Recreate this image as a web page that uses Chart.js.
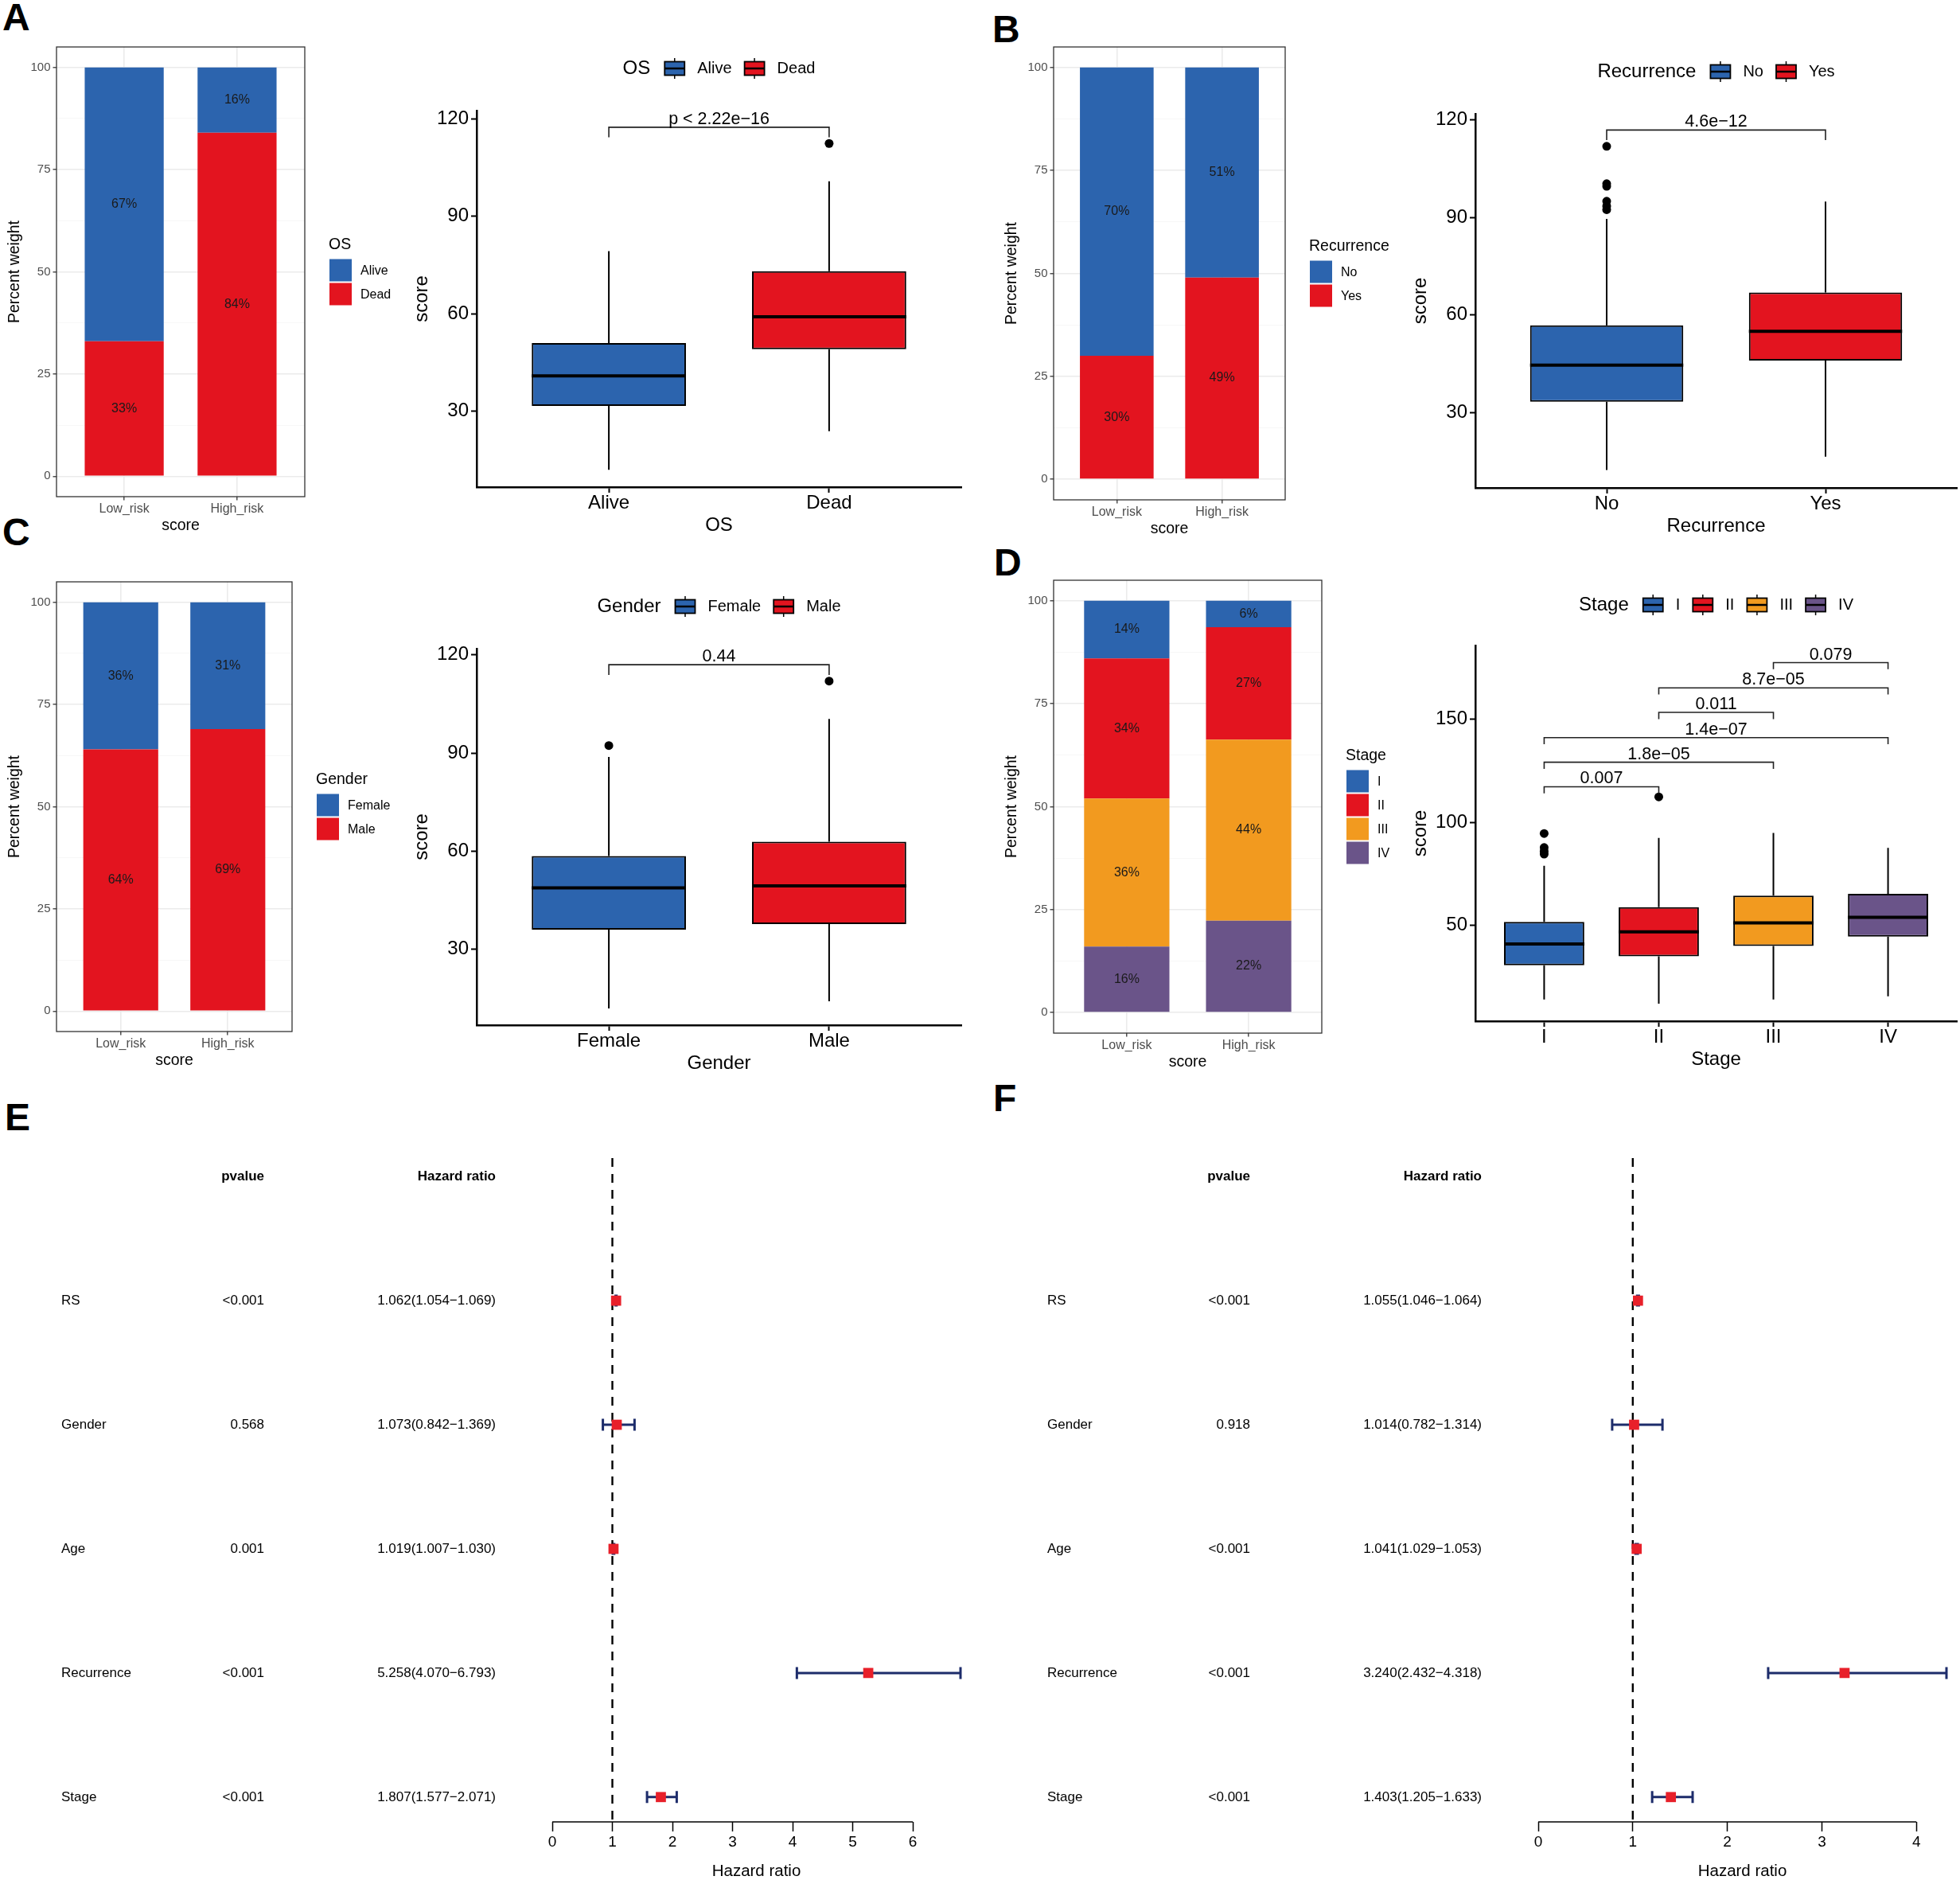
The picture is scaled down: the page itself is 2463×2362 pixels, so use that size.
<!DOCTYPE html>
<html>
<head>
<meta charset="utf-8">
<title>Risk score and clinical features</title>
<script src="https://cdn.jsdelivr.net/npm/chart.js@4.4.1/dist/chart.umd.min.js"></script>
<style>
  html, body { margin: 0; padding: 0; background: #fff; }
  #page { position: relative; width: 2463px; height: 2362px; overflow: hidden; background: #fff; }
  #page canvas { position: absolute; }
  .tag { position: absolute; font: bold 48px "Liberation Sans", Arial, sans-serif; line-height: 1; color: #000; }
</style>
</head>
<body>
<div id="page">
  <div class="tag" style="left:3px;top:-2px">A</div>
  <div class="tag" style="left:1247px;top:13px">B</div>
  <div class="tag" style="left:3px;top:645px">C</div>
  <div class="tag" style="left:1249px;top:683px">D</div>
  <div class="tag" style="left:6px;top:1380px">E</div>
  <div class="tag" style="left:1248px;top:1356px">F</div>
</div>
<script>
const FONT = '"Liberation Sans", Arial, Helvetica, sans-serif';
Chart.defaults.font.family = FONT;
Chart.defaults.color = '#000';

const BLUE = '#2C64AE', RED = '#E3141F', ORANGE = '#F29A1F', PURPLE = '#6A5489';

// stacked percent bars (A-D, left)
const riskGroups = ['Low_risk', 'High_risk'];
const pctTicks = [0, 25, 50, 75, 100];
const pctGridLines = [0, 12.5, 25, 37.5, 50, 62.5, 75, 87.5, 100];

const osLevels = ['Alive', 'Dead'];
const osPctAlive = [67, 16];
const osPctDead = [33, 84];

const recLevels = ['No', 'Yes'];
const recPctNo = [70, 51];
const recPctYes = [30, 49];

const genderLevels = ['Female', 'Male'];
const genderPctFemale = [36, 31];
const genderPctMale = [64, 69];

const stageLevels = ['I', 'II', 'III', 'IV'];
const stagePctI = [14, 6.4];
const stagePctII = [34, 27.3];
const stagePctIII = [36, 44.0];
const stagePctIV = [16, 22.3];

// score box plots (A-D, right)
const osLo = [12.0, 23.9];
const osQ1 = [31.7, 49.1];
const osMed = [40.9, 59.1];
const osQ3 = [51.0, 73.1];
const osHi = [79.3, 100.8];
const osOut = [[], [112.4]];
const osCmp = [[1, 2]];
const osCmpY = [117.4];
const osCmpText = ['p < 2.22e\u221216'];

const recLo = [12.3, 16.4];
const recQ1 = [33.3, 46.0];
const recMed = [44.6, 55.0];
const recQ3 = [56.8, 66.9];
const recHi = [89.6, 94.9];
const recOut = [[111.9, 100.4, 99.6, 95.0, 93.5, 92.4], []];
const recCmp = [[1, 2]];
const recCmpY = [116.9];
const recCmpText = ['4.6e\u221212'];

const genderLo = [11.9, 14.1];
const genderQ1 = [36.0, 37.7];
const genderMed = [48.8, 49.4];
const genderQ3 = [58.5, 62.9];
const genderHi = [88.8, 100.4];
const genderOut = [[92.3], [112.0]];
const genderCmp = [[1, 2]];
const genderCmpY = [117.0];
const genderCmpText = ['0.44'];

const stageLo = [14.2, 12.2, 14.2, 15.7];
const stageQ1 = [30.8, 35.1, 40.1, 44.6];
const stageMed = [41.1, 47.0, 51.3, 54.0];
const stageQ3 = [51.8, 58.9, 64.5, 65.4];
const stageHi = [78.9, 92.4, 94.8, 87.6];
const stageOut = [[94.6, 87.8, 86.0, 84.6], [112.3], [], []];
const stageCmp = [[1, 2], [1, 3], [1, 4], [2, 3], [2, 4], [3, 4]];
const stageCmpY = [117.2, 129.1, 141.0, 153.2, 165.1, 177.3];
const stageCmpText = ['0.007', '1.8e\u221205', '1.4e\u221207', '0.011', '8.7e\u221205', '0.079'];

// cox regression forest plots (E univariate, F multivariate)
const coxVars = ['RS', 'Gender', 'Age', 'Recurrence', 'Stage'];
const uniP = ['<0.001', '0.568', '0.001', '<0.001', '<0.001'];
const uniHR = [1.062, 1.073, 1.019, 5.258, 1.807];
const uniLow = [1.054, 0.842, 1.007, 4.070, 1.577];
const uniHigh = [1.069, 1.369, 1.030, 6.793, 2.071];
const uniTicks = [0, 1, 2, 3, 4, 5, 6];

const multiP = ['<0.001', '0.918', '<0.001', '<0.001', '<0.001'];
const multiHR = [1.055, 1.014, 1.041, 3.240, 1.403];
const multiLow = [1.046, 0.782, 1.029, 2.432, 1.205];
const multiHigh = [1.064, 1.314, 1.053, 4.318, 1.633];
const multiTicks = [0, 1, 2, 3, 4];

function place(id, r) {
  const c = document.createElement('canvas');
  c.id = id;
  c.width = r.w; c.height = r.h;
  c.style.left = r.l + 'px'; c.style.top = r.t + 'px';
  c.style.width = r.w + 'px'; c.style.height = r.h + 'px';
  document.getElementById('page').appendChild(c);
  return c.getContext('2d');
}

function pad(r, a) {
  return { left: 0, top: a.y0 - r.t, right: r.l + r.w - a.x1, bottom: 0 };
}

const frameBox = {
  id: 'frameBox',
  afterDatasetsDraw(chart) {
    const { ctx, chartArea: a } = chart;
    ctx.save();
    ctx.strokeStyle = '#333';
    ctx.lineWidth = 1.3;
    ctx.strokeRect(a.left, a.top, a.right - a.left, a.bottom - a.top);
    ctx.restore();
  }
};

const segLabels = {
  id: 'segLabels',
  afterDatasetsDraw(chart) {
    const ctx = chart.ctx;
    ctx.save();
    ctx.font = '16px ' + FONT;
    ctx.fillStyle = '#1A1A1A';
    ctx.textAlign = 'center';
    ctx.textBaseline = 'middle';
    chart.data.datasets.forEach((ds, di) => {
      chart.getDatasetMeta(di).data.forEach((el, i) => {
        ctx.fillText(Math.round(ds.data[i].y) + '%', el.x, (el.y + el.base) / 2);
      });
    });
    ctx.restore();
  }
};

function sideLegend(title, levels, colors) {
  return {
    id: 'sideLegend',
    afterDraw(chart) {
      const { ctx, chartArea: a } = chart;
      const H = 28 + levels.length * 30;
      const x = a.right + 31, top = (a.top + a.bottom) / 2 - H / 2;
      ctx.save();
      ctx.textBaseline = 'middle';
      ctx.textAlign = 'left';
      ctx.fillStyle = '#000';
      ctx.font = '19.5px ' + FONT;
      ctx.fillText(title, x - 1, top + 10);
      ctx.font = '16px ' + FONT;
      levels.forEach((lv, i) => {
        const y = top + 28 + i * 30;
        ctx.fillStyle = colors[i];
        ctx.fillRect(x, y, 28, 28);
        ctx.fillStyle = '#000';
        ctx.fillText(lv, x + 39, y + 15);
      });
      ctx.restore();
    }
  };
}

function stackedBar(id, r, a, levels, colors, pcts, title) {
  const ctx = place(id, r);
  // first level sits on top of the stack, so build bottom-up
  const datasets = levels.map((lv, k) => ({
    label: lv,
    data: pcts[k].map((v, i) => ({ x: i + 1, y: v })),
    backgroundColor: colors[k],
    borderWidth: 0,
    barPercentage: 0.7,
    categoryPercentage: 1
  })).reverse();
  const major = c => c.tick && pctTicks.includes(c.tick.value);
  new Chart(ctx, {
    type: 'bar',
    data: { datasets },
    options: {
      responsive: false, animation: false, events: [],
      layout: { autoPadding: false, padding: pad(r, a) },
      plugins: { legend: { display: false }, tooltip: { enabled: false } },
      scales: {
        x: {
          type: 'linear', stacked: true, offset: false, min: 0.4, max: riskGroups.length + 0.6,
          afterBuildTicks: s => { s.ticks = riskGroups.map((g, i) => ({ value: i + 1 })); },
          afterFit: s => { s.height = r.t + r.h - a.y1; },
          ticks: { callback: v => riskGroups[v - 1], font: { size: 16 }, color: '#4D4D4D', padding: 1.4, autoSkip: false, maxRotation: 0 },
          grid: { offset: false, color: '#EBEBEB', lineWidth: 1.6, tickColor: '#333', tickLength: 4.5, tickWidth: 1.3 },
          border: { display: false },
          title: { display: true, text: 'score', font: { size: 19.5 }, color: '#000', padding: { top: 0, bottom: 3.3 } }
        },
        y: {
          stacked: true, min: -5, max: 105,
          afterBuildTicks: s => { s.ticks = pctGridLines.map(v => ({ value: v })); },
          afterFit: s => { s.width = a.x0 - r.l; },
          ticks: { callback: v => pctTicks.includes(v) ? String(v) : '', font: { size: 15 }, color: '#4D4D4D', padding: 3 },
          grid: {
            color: c => major(c) ? '#EBEBEB' : '#F6F6F6',
            lineWidth: c => major(c) ? 1.6 : 0.9,
            tickColor: c => major(c) ? '#333' : 'rgba(0,0,0,0)',
            tickLength: 4.5, tickWidth: 1.3
          },
          border: { display: false },
          title: { display: true, text: 'Percent weight', font: { size: 19.5 }, color: '#000', padding: { top: 7.3, bottom: 0 } }
        }
      }
    },
    plugins: [frameBox, segLabels, sideLegend(title, levels, colors)]
  });
}

function topLegend(title, levels, colors, yAbs, t) {
  return {
    id: 'topLegend',
    afterDraw(chart) {
      const { ctx, chartArea: a } = chart;
      const y = yAbs - t;
      ctx.save();
      ctx.textBaseline = 'middle';
      ctx.textAlign = 'left';
      ctx.font = '24px ' + FONT;
      const tw = ctx.measureText(title).width;
      ctx.font = '20px ' + FONT;
      const lws = levels.map(l => ctx.measureText(l).width);
      let total = tw;
      lws.forEach((w, i) => { total += (i === 0 ? 18 : 16) + 25 + 16 + w; });
      let x = (a.left + a.right) / 2 - total / 2;
      ctx.fillStyle = '#000';
      ctx.font = '24px ' + FONT;
      ctx.fillText(title, x, y);
      x += tw;
      ctx.font = '20px ' + FONT;
      levels.forEach((lv, i) => {
        x += i === 0 ? 18 : 16;
        ctx.strokeStyle = '#000';
        ctx.lineWidth = 1.5;
        ctx.beginPath(); ctx.moveTo(x + 12.5, y - 13); ctx.lineTo(x + 12.5, y + 13); ctx.stroke();
        ctx.fillStyle = colors[i];
        ctx.fillRect(x, y - 8.5, 25, 17);
        ctx.lineWidth = 1.8;
        ctx.strokeRect(x, y - 8.5, 25, 17);
        ctx.lineWidth = 2.5;
        ctx.beginPath(); ctx.moveTo(x, y); ctx.lineTo(x + 25, y); ctx.stroke();
        x += 25 + 16;
        ctx.fillStyle = '#000';
        ctx.fillText(lv, x, y);
        x += lws[i];
      });
      ctx.restore();
    }
  };
}

function boxDecor(b) {
  return {
    id: 'boxDecor',
    beforeDatasetsDraw(chart) {
      const { ctx, scales: { x, y } } = chart;
      ctx.save();
      ctx.strokeStyle = '#000';
      ctx.lineWidth = 2;
      b.cats.forEach((c, i) => {
        const px = x.getPixelForValue(i + 1);
        ctx.beginPath();
        ctx.moveTo(px, y.getPixelForValue(b.hi[i])); ctx.lineTo(px, y.getPixelForValue(b.q3[i]));
        ctx.moveTo(px, y.getPixelForValue(b.q1[i])); ctx.lineTo(px, y.getPixelForValue(b.lo[i]));
        ctx.stroke();
      });
      ctx.restore();
    },
    afterDatasetsDraw(chart) {
      const { ctx, scales: { x, y } } = chart;
      ctx.save();
      ctx.strokeStyle = '#000';
      ctx.lineWidth = 4;
      chart.getDatasetMeta(0).data.forEach((el, i) => {
        const py = y.getPixelForValue(b.med[i]);
        ctx.beginPath(); ctx.moveTo(el.x - el.width / 2, py); ctx.lineTo(el.x + el.width / 2, py); ctx.stroke();
      });
      ctx.lineWidth = 1.6;
      ctx.strokeStyle = '#222';
      ctx.font = '21.5px ' + FONT;
      ctx.fillStyle = '#000';
      ctx.textAlign = 'center';
      ctx.textBaseline = 'alphabetic';
      b.cmp.forEach((pr, k) => {
        const x1 = x.getPixelForValue(pr[0]), x2 = x.getPixelForValue(pr[1]);
        const py = y.getPixelForValue(b.cmpY[k]), pt = y.getPixelForValue(b.cmpY[k] - b.tip);
        ctx.beginPath(); ctx.moveTo(x1, pt); ctx.lineTo(x1, py); ctx.lineTo(x2, py); ctx.lineTo(x2, pt); ctx.stroke();
        ctx.fillText(b.cmpText[k], (x1 + x2) / 2, py - 4);
      });
      ctx.restore();
    }
  };
}

function boxPlot(id, r, a, b) {
  const ctx = place(id, r);
  const pts = [];
  b.out.forEach((list, i) => list.forEach(v => pts.push({ x: i + 1, y: v })));
  new Chart(ctx, {
    type: 'bar',
    data: {
      datasets: [
        {
          type: 'bar',
          data: b.cats.map((c, i) => ({ x: i + 1, y: [b.q1[i], b.q3[i]] })),
          backgroundColor: b.colors, borderColor: '#000', borderWidth: 2, borderSkipped: false,
          barPercentage: 0.7, categoryPercentage: 1
        },
        { type: 'scatter', data: pts, pointRadius: 5.5, backgroundColor: '#000', borderWidth: 0 }
      ]
    },
    options: {
      responsive: false, animation: false, events: [],
      layout: { autoPadding: false, padding: pad(r, a) },
      plugins: { legend: { display: false }, tooltip: { enabled: false } },
      scales: {
        x: {
          type: 'linear', offset: false, min: 0.4, max: b.cats.length + 0.6,
          afterBuildTicks: s => { s.ticks = b.cats.map((c, i) => ({ value: i + 1 })); },
          afterFit: s => { s.height = r.t + r.h - a.y1; },
          ticks: { callback: v => b.cats[v - 1], font: { size: 24 }, color: '#000', padding: -1.4, autoSkip: false, maxRotation: 0 },
          grid: { offset: false, drawOnChartArea: false, color: '#000', tickLength: 7, tickWidth: 2 },
          border: { display: true, color: '#000', width: 2.5 },
          title: { display: true, text: b.title, font: { size: 24 }, color: '#000', padding: { top: 0, bottom: 2 } }
        },
        y: {
          min: b.yMin, max: b.yMax,
          afterBuildTicks: s => { s.ticks = b.yTicks.map(v => ({ value: v })); },
          afterFit: s => { s.width = a.x0 - r.l; },
          ticks: { font: { size: 24 }, color: '#000', padding: 3 },
          grid: { drawOnChartArea: false, color: '#000', tickLength: 7, tickWidth: 2 },
          border: { display: true, color: '#000', width: 2.5 },
          title: { display: true, text: 'score', font: { size: 24 }, color: '#000', padding: { top: 38.6, bottom: 0 } }
        }
      }
    },
    plugins: [boxDecor(b), topLegend(b.title, b.cats, b.colors, b.legY, r.t)]
  });
}

function forestDecor(f) {
  const n = coxVars.length;
  return {
    id: 'forestDecor',
    beforeDatasetsDraw(chart) {
      const { ctx, chartArea: a, scales: { x, y } } = chart;
      ctx.save();
      ctx.strokeStyle = '#1D2C6B';
      ctx.lineWidth = 3;
      coxVars.forEach((v, i) => {
        const py = y.getPixelForValue(n - i);
        const x1 = x.getPixelForValue(f.low[i]), x2 = x.getPixelForValue(f.high[i]);
        ctx.beginPath();
        ctx.moveTo(x1, py); ctx.lineTo(x2, py);
        ctx.moveTo(x1, py - 7.5); ctx.lineTo(x1, py + 7.5);
        ctx.moveTo(x2, py - 7.5); ctx.lineTo(x2, py + 7.5);
        ctx.stroke();
      });
      const p1 = x.getPixelForValue(1);
      ctx.strokeStyle = '#000';
      ctx.lineWidth = 2.4;
      ctx.setLineDash([11, 9]);
      ctx.beginPath(); ctx.moveTo(p1, a.top + 8); ctx.lineTo(p1, a.bottom); ctx.stroke();
      ctx.restore();
    },
    afterDraw(chart) {
      const { ctx, chartArea: a, scales: { x, y } } = chart;
      ctx.save();
      ctx.strokeStyle = '#000';
      ctx.lineWidth = 1.5;
      ctx.beginPath();
      ctx.moveTo(x.getPixelForValue(f.ticks[0]), a.bottom);
      ctx.lineTo(x.getPixelForValue(f.ticks[f.ticks.length - 1]), a.bottom);
      ctx.stroke();
      ctx.fillStyle = '#000';
      ctx.textBaseline = 'middle';
      ctx.font = 'bold 17px ' + FONT;
      ctx.textAlign = 'right';
      const hy = y.getPixelForValue(n + 1);
      ctx.fillText('pvalue', 332, hy);
      ctx.fillText('Hazard ratio', 623, hy);
      ctx.font = '17px ' + FONT;
      coxVars.forEach((v, i) => {
        const py = y.getPixelForValue(n - i);
        ctx.textAlign = 'left';
        ctx.fillText(v, 77, py);
        ctx.textAlign = 'right';
        ctx.fillText(f.p[i], 332, py);
        const txt = f.hr[i].toFixed(3) + '(' + f.low[i].toFixed(3) + '\u2212' + f.high[i].toFixed(3) + ')';
        ctx.fillText(txt, 623, py);
      });
      ctx.restore();
    }
  };
}

function forest(id, r, a, f) {
  const ctx = place(id, r);
  const n = coxVars.length;
  new Chart(ctx, {
    type: 'scatter',
    data: {
      datasets: [{
        data: coxVars.map((v, i) => ({ x: f.hr[i], y: n - i })),
        pointStyle: 'rect', pointRadius: 9, backgroundColor: '#E8202A', borderWidth: 0
      }]
    },
    options: {
      responsive: false, animation: false, events: [],
      layout: { autoPadding: false, padding: { left: a.x0 - r.l, top: a.y0 - r.t, right: r.l + r.w - a.x1, bottom: 0 } },
      plugins: { legend: { display: false }, tooltip: { enabled: false } },
      scales: {
        x: {
          type: 'linear', min: 0, max: f.xMax,
          afterBuildTicks: s => { s.ticks = f.ticks.map(v => ({ value: v })); },
          afterFit: s => { s.height = r.t + r.h - a.y1; },
          ticks: { callback: v => String(v), font: { size: 19 }, color: '#000', padding: 2.2, autoSkip: false, maxRotation: 0 },
          grid: { drawOnChartArea: false, color: '#000', tickLength: 12, tickWidth: 1.5 },
          border: { display: false },
          title: { display: true, text: 'Hazard ratio', font: { size: 20.5 }, color: '#000', padding: { top: 0, bottom: 6 } }
        },
        y: { display: false, min: 0.8, max: n + 1.2 }
      }
    },
    plugins: [forestDecor(f)]
  });
}

stackedBar('barA', { l: 0, t: 40, w: 560, h: 636 }, { x0: 71, x1: 383, y0: 59, y1: 624 },
  osLevels, [BLUE, RED], [osPctAlive, osPctDead], 'OS');
stackedBar('barB', { l: 1253, t: 40, w: 500, h: 640 }, { x0: 1324, x1: 1615, y0: 59, y1: 628 },
  recLevels, [BLUE, RED], [recPctNo, recPctYes], 'Recurrence');
stackedBar('barC', { l: 0, t: 700, w: 540, h: 648 }, { x0: 71, x1: 367, y0: 731, y1: 1296 },
  genderLevels, [BLUE, RED], [genderPctFemale, genderPctMale], 'Gender');
stackedBar('barD', { l: 1253, t: 700, w: 560, h: 650 }, { x0: 1324, x1: 1661, y0: 729, y1: 1298 },
  stageLevels, [BLUE, RED, ORANGE, PURPLE], [stagePctI, stagePctII, stagePctIII, stagePctIV], 'Stage');

boxPlot('boxA', { l: 477, t: 40, w: 754, h: 637 }, { x0: 599, x1: 1208, y0: 139, y1: 612 }, {
  title: 'OS', cats: osLevels, colors: [BLUE, RED],
  lo: osLo, q1: osQ1, med: osMed, q3: osQ3, hi: osHi, out: osOut,
  cmp: osCmp, cmpY: osCmpY, cmpText: osCmpText, tip: 3.1,
  yMin: 6.7, yMax: 122.5, yTicks: [30, 60, 90, 120], legY: 86
});
boxPlot('boxB', { l: 1732, t: 40, w: 731, h: 638 }, { x0: 1854, x1: 2459, y0: 143, y1: 613 }, {
  title: 'Recurrence', cats: recLevels, colors: [BLUE, RED],
  lo: recLo, q1: recQ1, med: recMed, q3: recQ3, hi: recHi, out: recOut,
  cmp: recCmp, cmpY: recCmpY, cmpText: recCmpText, tip: 3.1,
  yMin: 6.8, yMax: 121.9, yTicks: [30, 60, 90, 120], legY: 90
});
boxPlot('boxC', { l: 477, t: 700, w: 754, h: 653 }, { x0: 599, x1: 1208, y0: 815, y1: 1288 }, {
  title: 'Gender', cats: genderLevels, colors: [BLUE, RED],
  lo: genderLo, q1: genderQ1, med: genderMed, q3: genderQ3, hi: genderHi, out: genderOut,
  cmp: genderCmp, cmpY: genderCmpY, cmpText: genderCmpText, tip: 3.1,
  yMin: 6.8, yMax: 121.9, yTicks: [30, 60, 90, 120], legY: 762
});
boxPlot('boxD', { l: 1732, t: 700, w: 731, h: 648 }, { x0: 1854, x1: 2459, y0: 811, y1: 1283 }, {
  title: 'Stage', cats: stageLevels, colors: [BLUE, RED, ORANGE, PURPLE],
  lo: stageLo, q1: stageQ1, med: stageMed, q3: stageQ3, hi: stageHi, out: stageOut,
  cmp: stageCmp, cmpY: stageCmpY, cmpText: stageCmpText, tip: 3.2,
  yMin: 3.7, yMax: 185.6, yTicks: [50, 100, 150], legY: 760
});

forest('forestE', { l: 0, t: 1370, w: 1231, h: 1000 }, { x0: 694, x1: 1207, y0: 1447, y1: 2289 }, {
  p: uniP, hr: uniHR, low: uniLow, high: uniHigh, xMax: 6.793, ticks: uniTicks
});
forest('forestF', { l: 1239, t: 1370, w: 1224, h: 1000 }, { x0: 1933, x1: 2446, y0: 1447, y1: 2289 }, {
  p: multiP, hr: multiHR, low: multiLow, high: multiHigh, xMax: 4.318, ticks: multiTicks
});
</script>
</body>
</html>
